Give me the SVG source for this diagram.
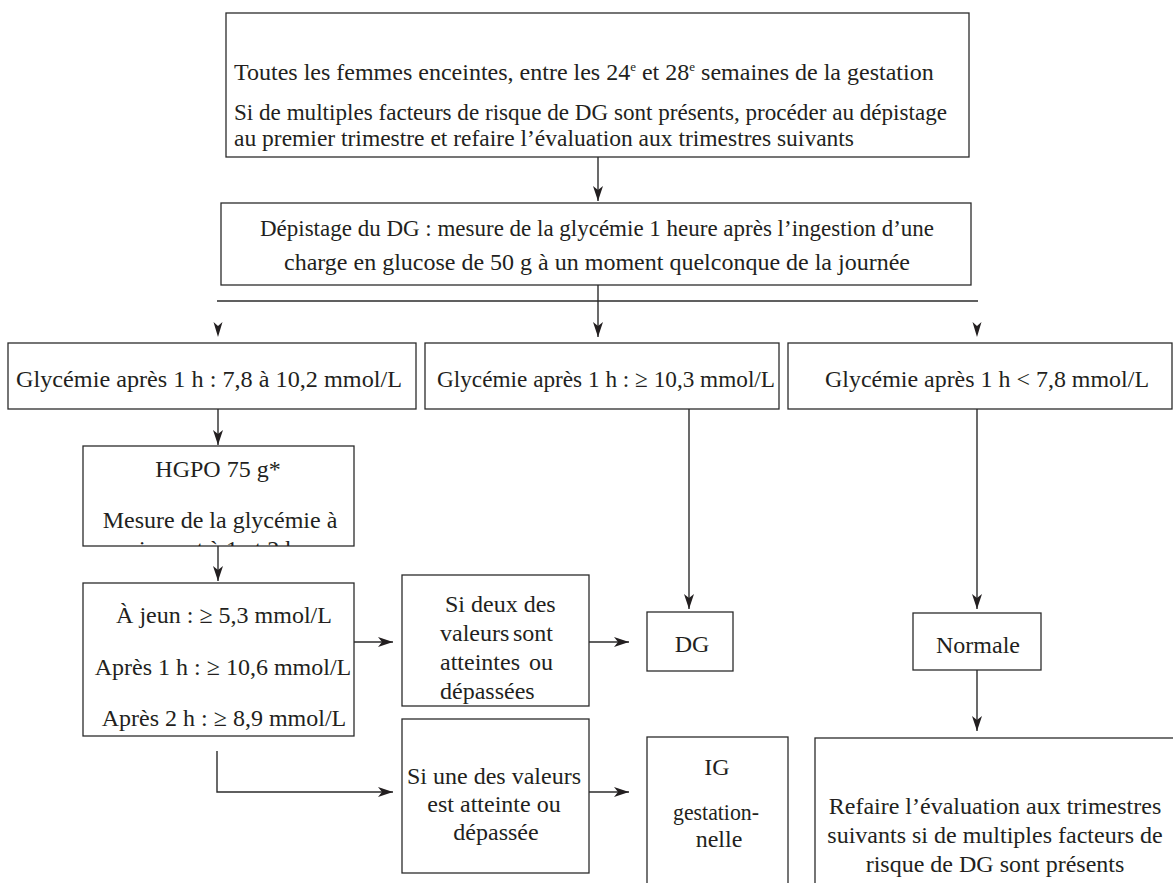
<svg xmlns="http://www.w3.org/2000/svg" width="1173" height="883" viewBox="0 0 1173 883">
<style>
  .box { fill: #ffffff; stroke: #2b2b2b; stroke-width: 1.3; }
  .t { font-family: "Liberation Serif", "Times New Roman", serif; font-size: 24px; fill: #231f20; }
  .c { text-anchor: middle; }
  .ln { fill: none; stroke: #2b2b2b; stroke-width: 1.4; }
  .ah { fill: #231f20; }
</style>
<defs>
  <marker id="arr" markerUnits="userSpaceOnUse" markerWidth="15" markerHeight="10" viewBox="0 0 15 10" refX="15" refY="5" orient="auto">
    <path d="M0,0 L15,5 L0,10 L4,5 z" fill="#231f20"/>
  </marker>
  <clipPath id="hgpoClip"><rect x="83" y="446" width="271" height="100"/></clipPath>
</defs>
<rect x="0" y="0" width="1173" height="883" fill="#ffffff"/>

<g id="connectors">
  <line class="ln" x1="598" y1="157" x2="598" y2="201" marker-end="url(#arr)"/>
  <line class="ln" x1="598" y1="285" x2="598" y2="337" marker-end="url(#arr)"/>
  <line class="ln" x1="217" y1="301" x2="978" y2="301"/>
  <path class="ah" d="M213.5,322 L218,326 L222.5,322 L218,337 z"/>
  <path class="ah" d="M972.5,322 L977,326 L981.5,322 L977,337 z"/>
  <line class="ln" x1="218" y1="409" x2="218" y2="445" marker-end="url(#arr)"/>
  <line class="ln" x1="218" y1="546" x2="218" y2="581" marker-end="url(#arr)"/>
  <line class="ln" x1="354" y1="642" x2="393" y2="642" marker-end="url(#arr)"/>
  <line class="ln" x1="589" y1="642" x2="629" y2="642" marker-end="url(#arr)"/>
  <line class="ln" x1="689" y1="409" x2="689" y2="609" marker-end="url(#arr)"/>
  <polyline class="ln" points="217,751 217,792 393,792" marker-end="url(#arr)"/>
  <line class="ln" x1="589" y1="792" x2="629" y2="792" marker-end="url(#arr)"/>
  <line class="ln" x1="977" y1="409" x2="977" y2="609" marker-end="url(#arr)"/>
  <line class="ln" x1="977" y1="670" x2="977" y2="731" marker-end="url(#arr)"/>
</g>

<g id="node-top">
  <rect class="box" x="226" y="13" width="743" height="144"/>
  <text class="t" x="234" y="80">Toutes les femmes enceintes, entre les 24<tspan font-size="13" dy="-9">e</tspan><tspan dy="9"> et 28</tspan><tspan font-size="13" dy="-9">e</tspan><tspan dy="9"> semaines de la gestation</tspan></text>
  <text class="t" x="234" y="120" textLength="713" lengthAdjust="spacingAndGlyphs">Si de multiples facteurs de risque de DG sont présents, procéder au dépistage</text>
  <text class="t" x="234" y="146" textLength="620" lengthAdjust="spacingAndGlyphs">au premier trimestre et refaire l’évaluation aux trimestres suivants</text>
</g>

<g id="node-depistage">
  <rect class="box" x="221" y="203" width="750" height="82"/>
  <text class="t c" x="597" y="236" textLength="674" lengthAdjust="spacingAndGlyphs">Dépistage du DG : mesure de la glycémie 1 heure après l’ingestion d’une</text>
  <text class="t c" x="597" y="270">charge en glucose de 50 g à un moment quelconque de la journée</text>
</g>

<g id="node-gly-mid-range">
  <rect class="box" x="8" y="343" width="408" height="66"/>
  <text class="t" x="16" y="387" textLength="386" lengthAdjust="spacingAndGlyphs">Glycémie après 1 h : 7,8 à 10,2 mmol/L</text>
</g>

<g id="node-gly-high">
  <rect class="box" x="425" y="343" width="354" height="66"/>
  <text class="t" x="437" y="387" textLength="338" lengthAdjust="spacingAndGlyphs">Glycémie après 1 h : ≥ 10,3 mmol/L</text>
</g>

<g id="node-gly-low">
  <rect class="box" x="788" y="343" width="384" height="66"/>
  <text class="t" x="825" y="387" textLength="324" lengthAdjust="spacingAndGlyphs">Glycémie après 1 h &lt; 7,8 mmol/L</text>
</g>

<g id="node-hgpo">
  <rect class="box" x="83" y="446" width="271" height="100"/>
  <text class="t c" x="218" y="477">HGPO 75 g*</text>
  <text class="t c" x="220" y="528">Mesure de la glycémie à</text>
  <text class="t c" x="218" y="557" clip-path="url(#hgpoClip)">jeun et à 1 et 2 h</text>
</g>

<g id="node-values">
  <rect class="box" x="83" y="583" width="271" height="153"/>
  <text class="t c" x="224" y="623">À jeun : ≥ 5,3 mmol/L</text>
  <text class="t c" x="223" y="675">Après 1 h : ≥ 10,6 mmol/L</text>
  <text class="t c" x="224" y="726">Après 2 h : ≥ 8,9 mmol/L</text>
</g>

<g id="node-si-deux">
  <rect class="box" x="402" y="575" width="187" height="131"/>
  <text class="t" x="445" y="612">Si deux des</text>
  <text class="t" y="641"><tspan x="440">valeurs </tspan><tspan x="553" text-anchor="end">sont</tspan></text>
  <text class="t" y="670"><tspan x="440">atteintes </tspan><tspan x="553" text-anchor="end">ou</tspan></text>
  <text class="t" x="440" y="699">dépassées</text>
</g>

<g id="node-si-une">
  <rect class="box" x="402" y="719" width="187" height="154"/>
  <text class="t c" x="494" y="784">Si une des valeurs</text>
  <text class="t c" x="494" y="812">est atteinte ou</text>
  <text class="t c" x="496" y="840">dépassée</text>
</g>

<g id="node-dg">
  <rect class="box" x="647" y="612" width="86" height="59"/>
  <text class="t c" x="692" y="652">DG</text>
</g>

<g id="node-ig">
  <rect class="box" x="647" y="737" width="141" height="160"/>
  <text class="t c" x="717" y="775">IG</text>
  <text class="t c" x="716" y="820" textLength="86" lengthAdjust="spacingAndGlyphs">gestation-</text>
  <text class="t c" x="719" y="847">nelle</text>
</g>

<g id="node-normale">
  <rect class="box" x="913" y="613" width="128" height="57"/>
  <text class="t c" x="978" y="653">Normale</text>
</g>

<g id="node-refaire">
  <rect class="box" x="815" y="738" width="370" height="160"/>
  <text class="t c" x="995" y="814">Refaire l’évaluation aux trimestres</text>
  <text class="t c" x="995" y="843">suivants si de multiples facteurs de</text>
  <text class="t c" x="995" y="872">risque de DG sont présents</text>
</g>
</svg>
